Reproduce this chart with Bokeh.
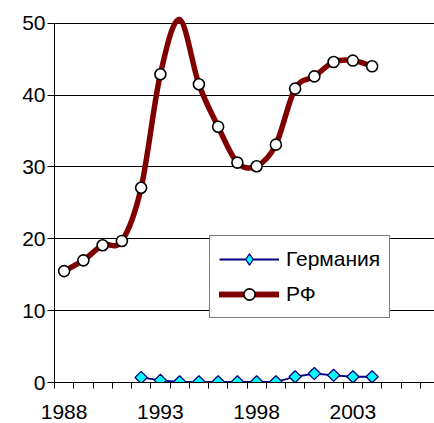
import numpy as np
from bokeh.plotting import figure
from bokeh.models import Range1d, FixedTicker, Legend, LegendItem, ColumnDataSource
from bokeh.embed import file_html
from bokeh.resources import INLINE

# ---- data ----
years = [1988, 1989, 1990, 1991, 1992, 1993, 1994, 1995, 1996,
         1997, 1998, 1999, 2000, 2001, 2002, 2003, 2004]
rf = [15.5, 17.0, 19.1, 19.7, 27.1, 42.9, 50.5, 41.5, 35.6,
      30.6, 30.1, 33.1, 40.9, 42.6, 44.6, 44.8, 44.0]
de_years = [1992, 1993, 1994, 1995, 1996, 1997, 1998, 1999, 2000,
            2001, 2002, 2003, 2004]
germany = [0.7, 0.3, 0.1, 0.1, 0.1, 0.1, 0.1, 0.1, 0.8, 1.25, 1.0, 0.8, 0.8]
y_ticks = [0, 10, 20, 30, 40, 50]
x_labels = [1988, 1993, 1998, 2003]
series_names = ["Германия", "РФ"]
y_axis_max = 50

FONT = "Liberation Sans"
RF_COLOR = "#800000"
DE_LINE = "#000080"
DE_FILL = "#00FFFF"

p = figure(width=434, height=423, output_backend="svg", toolbar_location=None,
           x_range=Range1d(1987.5, 2007.24), y_range=Range1d(0, 51.49),
           min_border_left=54, min_border_right=0, min_border_top=12,
           min_border_bottom=41)
p.outline_line_color = None
p.background_fill_color = "white"

# grid
p.xgrid.visible = False
p.ygrid.ticker = FixedTicker(ticks=y_ticks)
p.ygrid.grid_line_color = "black"
p.ygrid.grid_line_width = 1

# y axis
ya = p.yaxis[0]
ya.ticker = FixedTicker(ticks=y_ticks, minor_ticks=[])
ya.bounds = (0, y_axis_max)
ya.major_tick_out = 7
ya.major_tick_in = 0
ya.minor_tick_out = 0
ya.minor_tick_in = 0
ya.major_label_standoff = 2
ya.axis_line_color = "black"
ya.major_tick_line_color = "black"
ya.major_label_text_font = FONT
ya.major_label_text_font_size = "21px"
ya.major_label_text_color = "black"

# x axis (category-style: ticks between years, labels every 5 years)
xa = p.xaxis[0]
xa.ticker = FixedTicker(ticks=x_labels,
                        minor_ticks=[1987.5 + i for i in range(21)])
xa.major_tick_out = 0
xa.major_tick_in = 0
xa.minor_tick_out = 6
xa.minor_tick_in = 0
xa.minor_tick_line_color = "black"
xa.axis_line_color = "black"
xa.major_label_standoff = 16
xa.major_label_text_font = FONT
xa.major_label_text_font_size = "21px"
xa.major_label_text_color = "black"

# Germany series
de_src = ColumnDataSource(dict(x=de_years, y=germany))
de_line = p.line("x", "y", source=de_src, line_color=DE_LINE, line_width=1.8)
de_pts = p.scatter("x", "y", source=de_src, marker="square", size=8.6,
                   angle=np.pi / 4,
                   fill_color=DE_FILL, line_color=DE_LINE, line_width=1.3)
# proxy diamond for the legend swatch (no visible data in the plot)
de_legend_pts = p.scatter(x=[de_years[0]], y=[np.nan], marker="diamond",
                          fill_color=DE_FILL, line_color=DE_LINE, line_width=1.3)

# RF smoothed line (Bezier segments, Catmull-Rom control points)
xs = np.array(years, dtype=float)
ys = np.array(rf, dtype=float)
n = len(xs)
idx = np.arange(n - 1)
prev = np.maximum(idx - 1, 0)
nxt2 = np.minimum(idx + 2, n - 1)
bz = dict(
    x0=xs[idx], y0=ys[idx], x1=xs[idx + 1], y1=ys[idx + 1],
    cx0=xs[idx] + (xs[idx + 1] - xs[prev]) / 6.0,
    cy0=ys[idx] + (ys[idx + 1] - ys[prev]) / 6.0,
    cx1=xs[idx + 1] - (xs[nxt2] - xs[idx]) / 6.0,
    cy1=ys[idx + 1] - (ys[nxt2] - ys[idx]) / 6.0,
)
rf_curve = p.bezier(source=ColumnDataSource(bz), x0="x0", y0="y0", x1="x1", y1="y1",
                    cx0="cx0", cy0="cy0", cx1="cx1", cy1="cy1",
                    line_color=RF_COLOR, line_width=5.5, line_cap="round")
# proxy line for the legend swatch (no visible data in the plot)
rf_legend_line = p.line(x=[years[0], years[1]], y=[np.nan, np.nan],
                        line_color=RF_COLOR, line_width=5.5, line_cap="round")
# markers only for points inside the axis range (as the original does)
mx = [x for x, v in zip(years, rf) if v <= y_axis_max]
my = [v for v in rf if v <= y_axis_max]
rf_pts = p.scatter(mx, my, marker="circle", size=11, fill_color="white",
                   line_color="black", line_width=1.6)

legend = Legend(items=[
    LegendItem(label=series_names[0], renderers=[de_line, de_legend_pts]),
    LegendItem(label=series_names[1], renderers=[rf_curve, rf_legend_line, rf_pts]),
], location=(155, 64))
legend.border_line_color = "black"
legend.border_line_width = 1
legend.background_fill_color = "white"
legend.background_fill_alpha = 1
legend.label_text_font = FONT
legend.label_text_font_size = "21px"
legend.label_text_color = "black"
legend.glyph_width = 60
legend.glyph_height = 28
legend.label_height = 28
legend.label_standoff = 7
legend.spacing = 7
legend.padding = 9
legend.margin = 0
p.add_layout(legend)

open("out.html", "w").write(file_html(p, INLINE))
